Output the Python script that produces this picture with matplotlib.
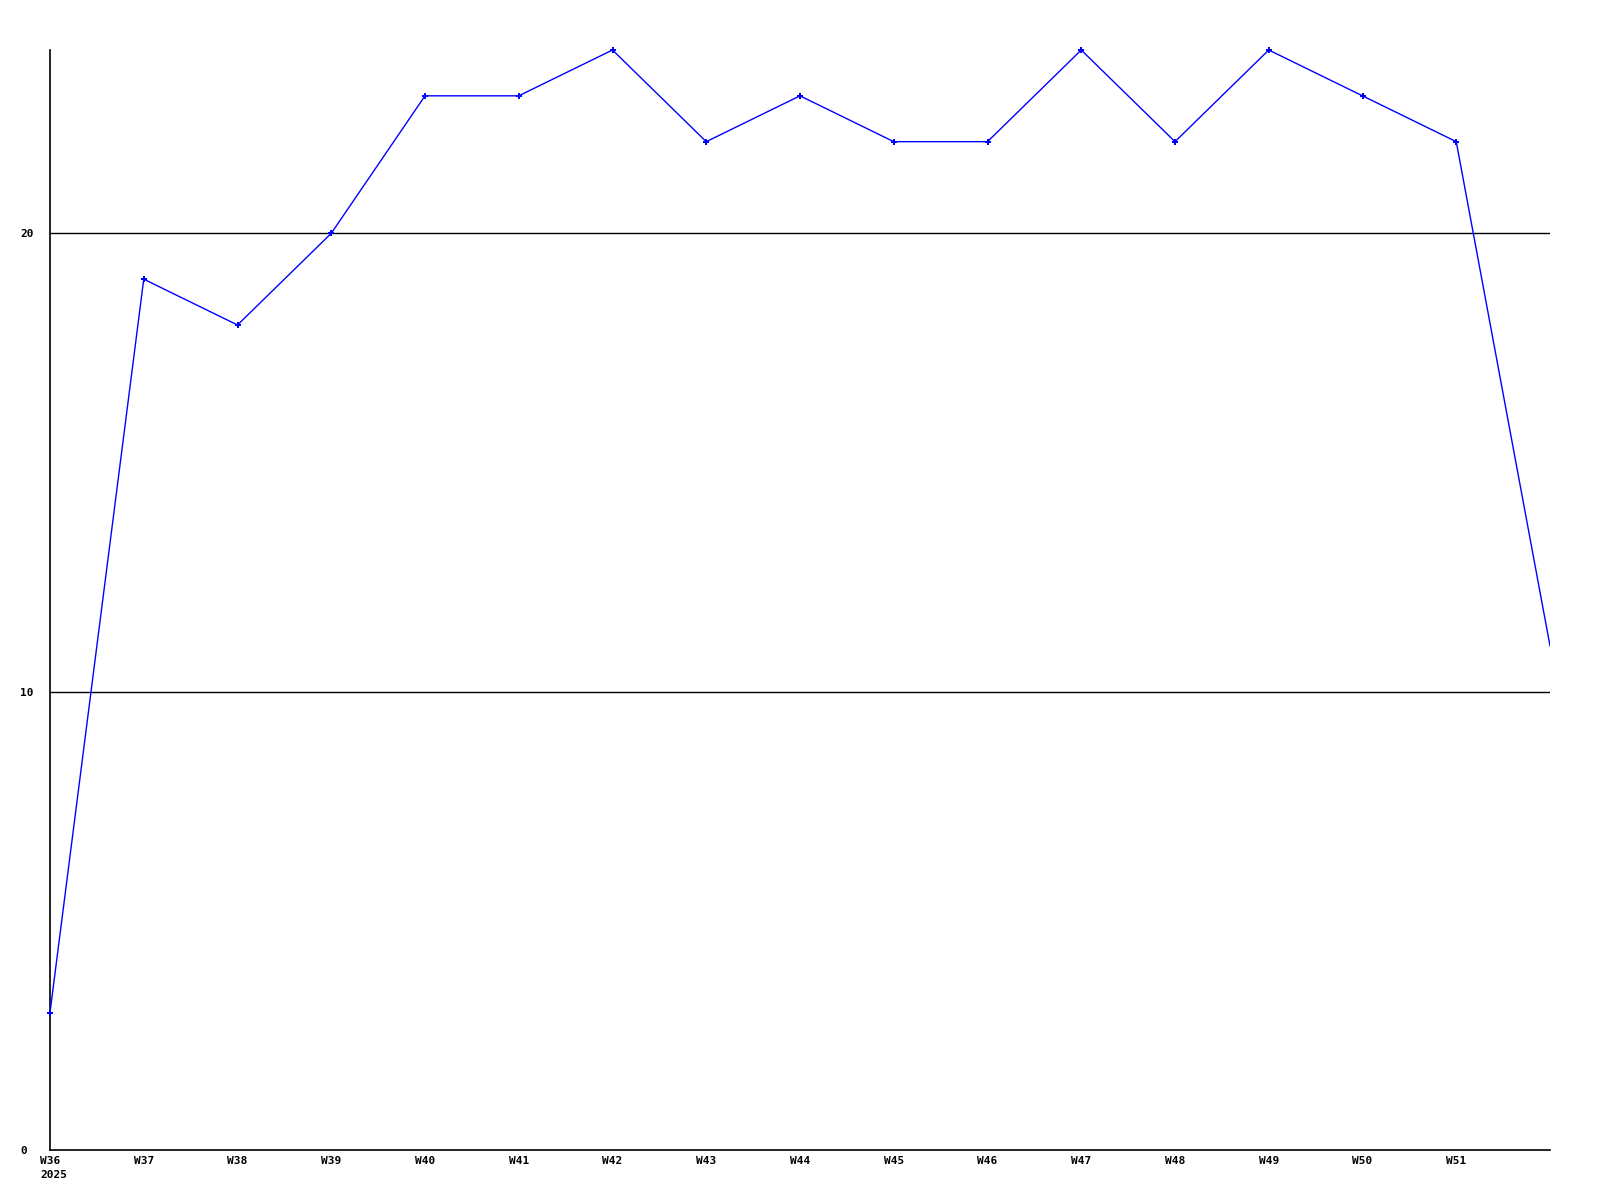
import matplotlib
matplotlib.use('Agg')
import matplotlib.pyplot as plt
import matplotlib.transforms as mtransforms

# Weekly values, W36 2025 to W52
weeks = ['W36', 'W37', 'W38', 'W39', 'W40', 'W41', 'W42', 'W43', 'W44',
         'W45', 'W46', 'W47', 'W48', 'W49', 'W50', 'W51', 'W52']
values = [3, 19, 18, 20, 23, 23, 24, 22, 23, 22, 22, 24, 22, 24, 23, 22, 11]
tick_labels = weeks[:-1]
y_ticks = [0, 10, 20]
year_label = '2025'

label_font = {'family': 'DejaVu Sans Mono', 'weight': 'bold', 'size': 8}

figure = plt.figure(figsize=(16, 12), dpi=100)
axes = figure.add_axes([50 / 1600, 50 / 1200, 1500 / 1600, 1100 / 1200])

x = list(range(len(weeks)))

# Horizontal reference lines
for y in y_ticks[1:]:
    axes.axhline(y, color='black', linewidth=1.0, zorder=1)

# Data line, with markers everywhere but the last point at the edge
axes.plot(x, values, color='blue', linewidth=1.0, zorder=3)
axes.plot(x[:-1], values[:-1], linestyle='none', marker='P', markersize=4,
          markeredgewidth=0, color='blue', zorder=4, clip_on=False)

axes.set_xlim(0, len(weeks) - 1)
axes.set_ylim(0, 24)

for side in ['top', 'right']:
    axes.spines[side].set_visible(False)
for side in ['left', 'bottom']:
    axes.spines[side].set_color('black')
    axes.spines[side].set_linewidth(1.2)

axes.set_xticks(x[:-1])
axes.set_xticklabels(tick_labels, fontdict=label_font)
axes.set_yticks(y_ticks)
axes.set_yticklabels([str(v) for v in y_ticks], fontdict=label_font, ha='left')
axes.tick_params(axis='x', length=0, pad=4)
axes.tick_params(axis='y', length=0, pad=21.6)

# Year under the first week label, left edge lined up with it
trans = mtransforms.blended_transform_factory(axes.transData, figure.transFigure)
trans = trans + mtransforms.ScaledTranslation(-10 / 100, 0, figure.dpi_scale_trans)
axes.text(0, 1 - 1170 / 1200, year_label, transform=trans, ha='left', va='top',
          fontdict=label_font)

figure.savefig('out.png', dpi=100)
